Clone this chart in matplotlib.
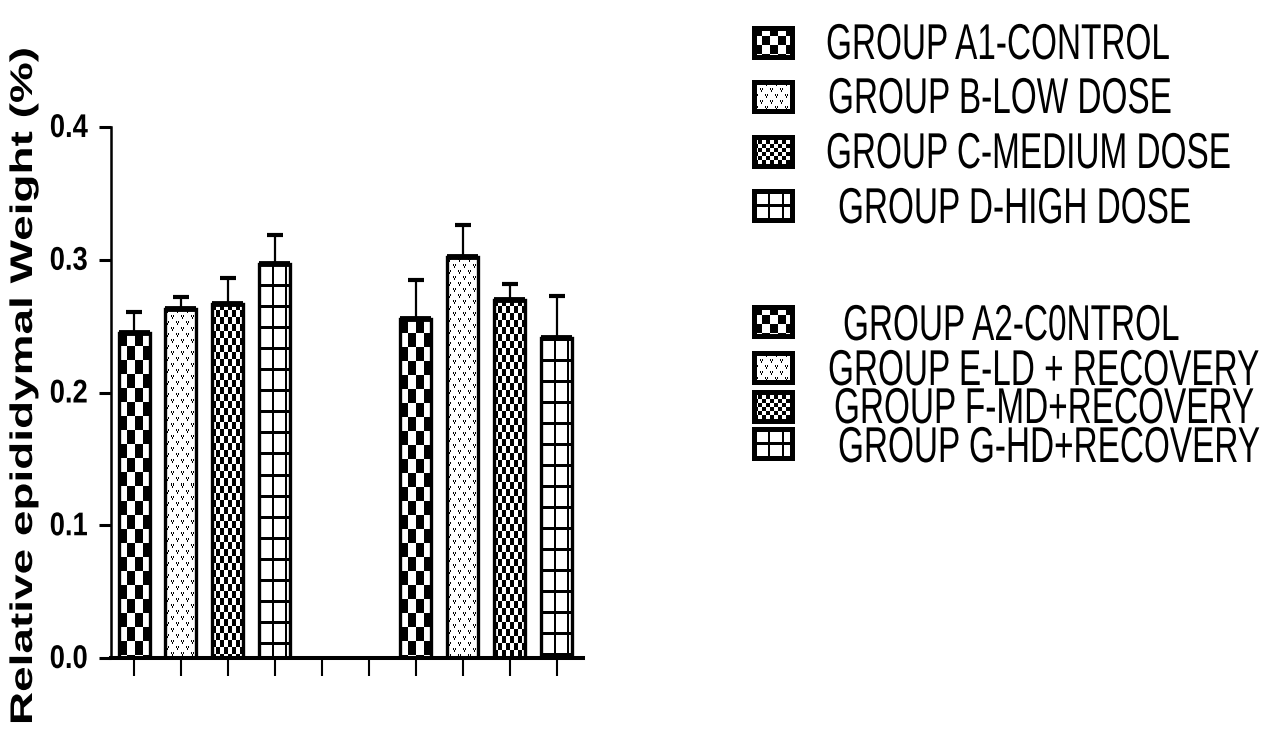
import numpy as np
import matplotlib
matplotlib.use("Agg")
import matplotlib.pyplot as plt
from matplotlib.patches import Rectangle
from matplotlib.patheffects import AbstractPathEffect
from matplotlib.transforms import Affine2D

plt.rcParams['font.family'] = ['Liberation Sans', 'DejaVu Sans']

# bar data (relative epididymal weight, %), mean and upper SEM
positions = [0, 1, 2, 3, 6, 7, 8, 9]
means = [0.245, 0.263, 0.267, 0.297, 0.255, 0.302, 0.270, 0.241]
sems = [0.016, 0.009, 0.019, 0.022, 0.030, 0.024, 0.012, 0.032]
fills = ['check_big', 'vee', 'check_small', 'grid',
         'check_big', 'vee', 'check_small', 'grid']

group_labels_1 = ['GROUP A1-CONTROL', 'GROUP B-LOW DOSE',
                  'GROUP C-MEDIUM DOSE', 'GROUP D-HIGH DOSE']
group_labels_2 = ['GROUP A2-C0NTROL', 'GROUP E-LD + RECOVERY',
                  'GROUP F-MD+RECOVERY', 'GROUP G-HD+RECOVERY']
legend_fills = ['check_big', 'vee', 'check_small', 'grid']

y_ticks = [0.0, 0.1, 0.2, 0.3, 0.4]
y_ticklabels = ['0.0', '0.1', '0.2', '0.3', '0.4']


class Squeeze(AbstractPathEffect):
    """scale the glyph outlines of a text (condensed / stretched type)"""
    def __init__(self, sx, sy=1.0, anchor='left'):
        super().__init__()
        self.sx = sx
        self.sy = sy
        self.anchor = anchor

    def draw_path(self, renderer, gc, tpath, affine, rgbFace=None):
        ext = tpath.get_extents()
        if self.anchor == 'right':
            x0 = ext.x1
        elif self.anchor == 'center':
            x0 = (ext.x0 + ext.x1) / 2
        else:
            x0 = 0
        t = Affine2D().translate(-x0, 0).scale(self.sx, self.sy).translate(x0, 0) + affine
        renderer.draw_path(gc, tpath, t, rgbFace)


def pattern(kind, h, w, cx=1.0, cy=1.0):
    # 1 = white, 0 = black, sizes in pixels; cx, cy scale the cell size
    h = max(int(round(h)), 1)
    w = max(int(round(w)), 1)
    yy, xx = np.mgrid[0:h, 0:w]
    if kind == 'check_big':
        return ((xx // int(8 * cx) + yy // int(14 * cy)) % 2).astype(float)
    if kind == 'check_small':
        return ((xx // int(4 * cx) + yy // int(7 * cy)) % 2).astype(float)
    if kind == 'grid':
        img = np.ones((h, w))
        img[(yy % int(21 * cy)) < 3] = 0
        img[(xx % int(13 * cx)) < 2] = 0
        return img
    # little "v" marks
    tile = np.ones((12, 10))
    for r, c in [(1, 1), (7, 6)]:
        tile[r, c] = 0
        tile[r, c + 2] = 0
        tile[r + 1, c] = 0
        tile[r + 1, c + 2] = 0
        tile[r + 2, c + 1] = 0
        tile[r + 3, c + 1] = 0
    img = np.tile(tile, (h // 12 + 1, w // 10 + 1))
    return img[:h, :w]


fig = plt.figure(figsize=(12.69, 7.44), dpi=100)
W, H = 1269, 744

ax = fig.add_axes([111 / W, 86 / H, 472 / W, 531 / H])
ax.set_xlim(-0.49, 9.56)
ax.set_ylim(0, 0.4)

# pixels per data unit, for drawing the fill patterns
p0 = ax.transData.transform((0, 0))
p1 = ax.transData.transform((1, 1))
px_x = p1[0] - p0[0]
px_y = (p1[1] - p0[1])

bw = 0.66
for p, m, kind in zip(positions, means, fills):
    img = pattern(kind, m * px_y, bw * px_x)
    ax.imshow(img, extent=(p - bw / 2, p + bw / 2, 0, m), origin='upper',
              cmap='gray', vmin=0, vmax=1, interpolation='nearest',
              aspect='auto', zorder=2)

ax.bar(positions, means, width=bw, fill=False, edgecolor='black',
       linewidth=2.4, zorder=3)
ax.hlines(means, np.array(positions) - bw / 2, np.array(positions) + bw / 2,
          colors='black', linewidth=4.2, zorder=4)
ax.errorbar(positions, means, yerr=[np.zeros(len(sems)), sems], fmt='none',
            ecolor='black', elinewidth=1.6, capsize=5.8, capthick=3, zorder=4)

ax.set_xlim(-0.49, 9.56)
ax.set_ylim(0, 0.4)

for s in ['top', 'right']:
    ax.spines[s].set_visible(False)
ax.spines['left'].set_linewidth(1.8)
ax.spines['bottom'].set_linewidth(2.9)

ax.set_xticks(range(10))
ax.tick_params(axis='x', length=13, width=1.5, direction='out', labelbottom=False)
ax.set_yticks(y_ticks)
ax.set_yticklabels(y_ticklabels)
ax.tick_params(axis='y', length=8.6, width=2.2, direction='out', pad=8, labelsize=19.7)
for lbl in ax.get_yticklabels():
    lbl.set_fontweight('bold')
    lbl.set_path_effects([Squeeze(1.0, 1.2, 'right')])

ax.set_ylabel('Relative epididymal Weight (%)', fontsize=22.5, fontweight='bold')
ax.yaxis.set_label_coords((39 - 111) / 472, (658 - 386) / 531)
ax.yaxis.label.set_path_effects([Squeeze(1.47, 1.0, 'center')])

# legend drawn in pixel coordinates of the whole figure
lax = fig.add_axes([0, 0, 1, 1])
lax.set_xlim(0, W)
lax.set_ylim(H, 0)
lax.axis('off')

rows = [(group_labels_1, [42, 96, 151, 205], [59, 113, 168, 223], [826, 828, 826, 838]),
        (group_labels_2, [321, 367, 406, 443], [340, 385, 423, 462], [843, 828, 834, 838])]
sw_w, sw_h = 38, 29
for labels, centers, baselines, xs in rows:
    for lab, kind, yc, yb, xt in zip(labels, legend_fills, centers, baselines, xs):
        x0 = 754
        y0 = yc - sw_h / 2
        img = pattern(kind, sw_h, sw_w, 1.1, 0.7)
        lax.imshow(img, extent=(x0, x0 + sw_w, y0 + sw_h, y0), origin='upper',
                   cmap='gray', vmin=0, vmax=1, interpolation='nearest',
                   aspect='auto', zorder=2)
        lax.add_patch(Rectangle((x0, y0), sw_w, sw_h, fill=False,
                                edgecolor='black', linewidth=3.6, zorder=3))
        t = lax.text(xt, yb, lab, fontsize=24, ha='left', va='baseline', zorder=4)
        t.set_path_effects([Squeeze(1.0, 1.51, 'left')])

lax.set_xlim(0, W)
lax.set_ylim(H, 0)

plt.savefig('out.png', dpi=100)
